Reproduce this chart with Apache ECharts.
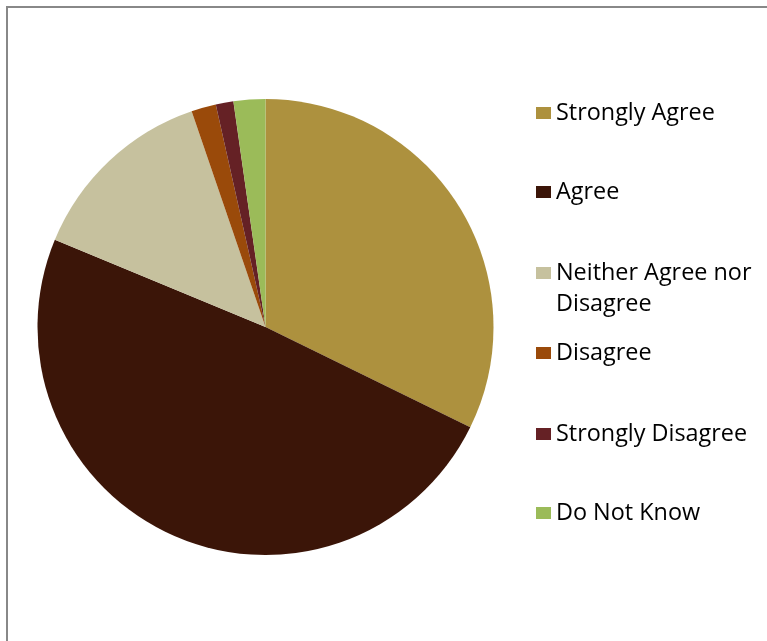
<!DOCTYPE html>
<html>
<head>
<meta charset="utf-8">
<script src="https://cdn.jsdelivr.net/npm/echarts@6/dist/echarts.min.js"></script>
<style>
  html, body { margin: 0; padding: 0; background: #ffffff; }
  #chart { width: 767px; height: 641px; }
</style>
</head>
<body>
<div id="chart"></div>
<script>
// Survey responses
const categories = ['Strongly Agree', 'Agree', 'Neither Agree nor Disagree', 'Disagree', 'Strongly Disagree', 'Do Not Know'];
const responses = [129, 196, 54, 7, 5, 9];
const sliceColors = ['#AD913E', '#3B1508', '#C6C19E', '#9A4A0A', '#652125', '#9BBB59'];

// Legend labels as shown (long one wraps onto a second line)
const legendLabels = {
  'Neither Agree nor Disagree': 'Neither Agree nor\nDisagree'
};

const chart = echarts.init(document.getElementById('chart'), null, { renderer: 'canvas' });

const lineH = 31;
const legendCenters = [108, 187, 268, 348, 429, 508];

const legends = categories.map((name, i) => {
  const wrapped = legendLabels[name];
  // A blank leading line keeps the marker level with the first text line
  const text = wrapped ? '\n' + wrapped : name;
  const lines = text.split('\n').length;
  return {
    data: [name],
    orient: 'vertical',
    left: 531,
    top: legendCenters[i] - (lines * lineH) / 2,
    padding: 5,
    itemWidth: 15,
    itemHeight: 12,
    icon: 'rect',
    selectedMode: false,
    formatter: () => text,
    textStyle: {
      fontFamily: 'Open Sans',
      fontSize: 23.4,
      color: '#000000',
      lineHeight: lineH
    }
  };
});

chart.setOption({
  animation: false,
  backgroundColor: '#ffffff',
  color: sliceColors,
  legend: legends,
  graphic: [{
    type: 'rect',
    shape: { x: 7, y: 7, width: 900, height: 900 },
    style: { fill: 'none', stroke: '#888888', lineWidth: 2 },
    silent: true,
    z: 100
  }],
  series: [{
    type: 'pie',
    center: [265.5, 327],
    radius: 228,
    startAngle: 90,
    clockwise: true,
    label: { show: false },
    labelLine: { show: false },
    emphasis: { disabled: true },
    itemStyle: { borderWidth: 0 },
    data: categories.map((name, i) => ({
      name: name,
      value: responses[i],
      itemStyle: { color: sliceColors[i] }
    }))
  }]
});
</script>
</body>
</html>
